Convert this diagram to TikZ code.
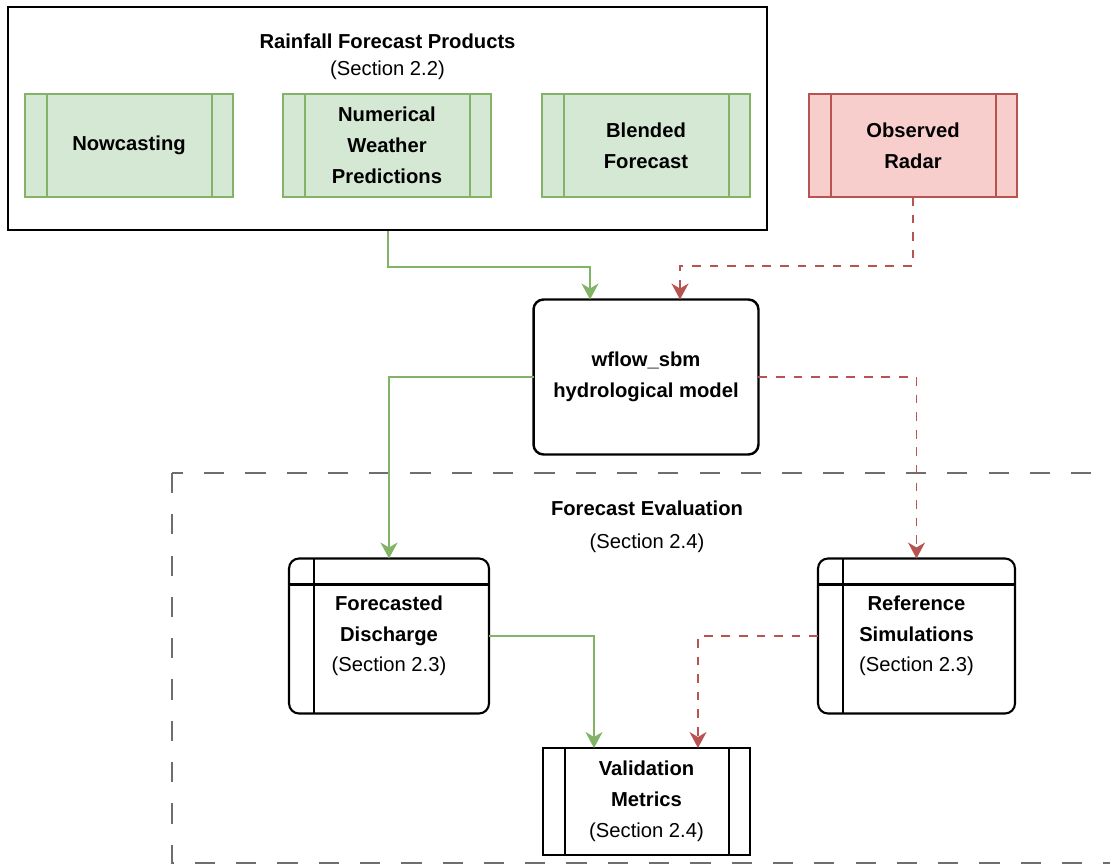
\documentclass[tikz,border=0pt]{standalone}
\usepackage{fontspec}
\setmainfont{Liberation Sans}
\usetikzlibrary{arrows.meta,calc}
\definecolor{fcgreen}{HTML}{D5E8D4}
\definecolor{fcgreenline}{HTML}{82B366}
\definecolor{obsred}{HTML}{F8CECC}
\definecolor{obsredline}{HTML}{B85450}
\definecolor{framegray}{HTML}{6E6E6E}

\tikzset{
	boxfont/.style={font=\fontsize{11.5pt}{17.5pt}\selectfont\bfseries, align=center, inner sep=0pt, outer sep=0pt},
	bars/.style={path picture={
		\draw[#1] ([xshift=0.44cm]path picture bounding box.north west) -- ([xshift=0.44cm]path picture bounding box.south west);
		\draw[#1] ([xshift=-0.42cm]path picture bounding box.north east) -- ([xshift=-0.42cm]path picture bounding box.south east);}},
	storelines/.style={path picture={
		\draw[line width=1.2pt] ([xshift=0.5cm]path picture bounding box.north west) -- ([xshift=0.5cm]path picture bounding box.south west);
		\draw[line width=1.2pt] ([yshift=-0.52cm]path picture bounding box.north west) -- ([yshift=-0.52cm]path picture bounding box.north east);}},
	productbox/.style={boxfont, draw=fcgreenline, fill=fcgreen, line width=0.6pt,
		minimum width=4.16cm, minimum height=2.06cm, bars={fcgreenline, line width=0.6pt}},
	radarbox/.style={productbox, draw=obsredline, fill=obsred, bars={obsredline, line width=0.6pt}},
	modelbox/.style={boxfont, draw, line width=1.4pt, rounded corners=0.2cm, minimum width=4.5cm, minimum height=3.1cm},
	storebox/.style={boxfont, draw, line width=1.2pt, rounded corners=0.2cm, minimum width=4cm, minimum height=3.1cm, storelines},
	metricbox/.style={boxfont, draw, line width=0.9pt, minimum width=4.14cm, minimum height=2.14cm, bars={line width=0.9pt}},
	flow/.style={line width=1pt, -{Stealth[length=0.32cm,width=0.34cm,inset=0.1cm]}},
	greenflow/.style={flow, draw=fcgreenline},
	redflow/.style={flow, draw=obsredline, dash pattern=on 5pt off 5pt},
	evalframe/.style={draw=framegray, line width=1.1pt, dash pattern=on 11.5pt off 12pt}
}

\begin{document}
\begin{tikzpicture}[x=0.02cm, y=-0.02cm]
	\clip (0,0) rectangle (1110,865);
	\fill[white] (0,0) rectangle (1110,865);

	\node[draw, line width=1.1pt, minimum width=15.18cm, minimum height=4.46cm, inner sep=0pt] (products) at (387.5,118.5) {};
	\node[font=\fontsize{11.5pt}{17.5pt}\selectfont, align=center] (prodtitle) at (387.5,56.5) {\textbf{Rainfall Forecast Products}\\[-2pt](Section 2.2)};

	\node[productbox] (now) at (129,145.5) {Nowcasting};
	\node[productbox] (nwp) at (387,145.5) {Numerical\\Weather\\Predictions};
	\node[productbox] (blend) at (646,145.5) {Blended\\Forecast};
	\node[radarbox] (radar) at (913,145.5) {Observed\\Radar};

	\node[modelbox] (wflow) at (646,377) {wflow\_sbm\\hydrological model};

	\draw[evalframe] (172,473) rectangle (1150,863);
	\node[font=\fontsize{11.5pt}{17.5pt}\selectfont, align=center] (evaltitle) at (647,526.5) {\textbf{Forecast Evaluation}\\[1.3pt](Section 2.4)};

	\node[storebox] (fcst) at (389,636) {Forecasted\\Discharge\\{\mdseries (Section 2.3)}};
	\node[storebox, minimum width=3.94cm] (refsim) at (916.5,636) {Reference\\Simulations\\{\mdseries (Section 2.3)}};
	\node[metricbox] (valid) at (646.5,801.5) {Validation\\Metrics\\{\mdseries (Section 2.4)}};

	\draw[greenflow] ($(products.south)+(0.5,0)$) -- ++(0,36) -| ($(wflow.north)+(-56,0)$);
	\draw[redflow] (radar.south) -- ++(0,69) -| ($(wflow.north)+(34,0)$);
	\draw[greenflow] (wflow.west) -| (fcst.north);
	\draw[redflow] (wflow.east) -| (refsim.north);
	\draw[greenflow] (fcst.east) -| ($(valid.north)+(-52.5,0)$);
	\draw[redflow] (refsim.west) -| ($(valid.north)+(51.5,0)$);
\end{tikzpicture}
\end{document}
